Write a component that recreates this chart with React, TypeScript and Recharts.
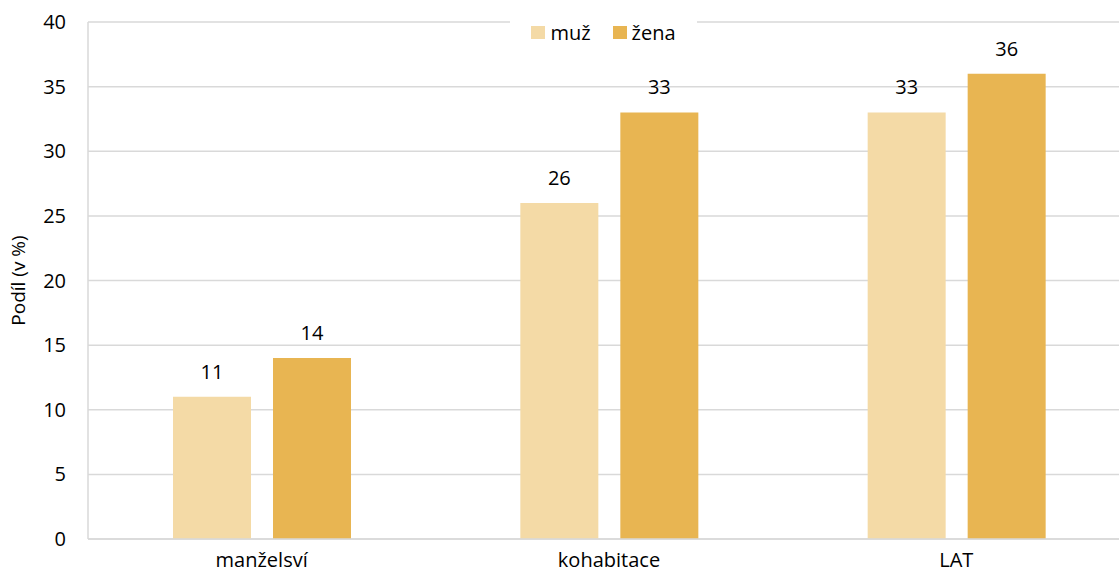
import { Bar, BarChart, CartesianGrid, LabelList, XAxis, YAxis } from "recharts";

const categories = ["manželsví", "kohabitace", "LAT"];
const muz = [11, 26, 33];
const zena = [14, 33, 36];
const yTicks = [0, 5, 10, 15, 20, 25, 30, 35, 40];

const data = categories.map((c, i) => ({ cat: c, muz: muz[i], zena: zena[i] }));

const FONT = "'Open Sans', sans-serif";
const FS = 20;

function LegendBox() {
  return (
    <div
      style={{
        position: "absolute",
        left: 510,
        top: 17,
        width: 187,
        height: 30,
        background: "#fff",
        display: "flex",
        alignItems: "center",
        justifyContent: "center",
        gap: 22,
        fontFamily: FONT,
        fontSize: FS,
        color: "#000",
      }}
    >
      <span style={{ display: "flex", alignItems: "center", gap: 5 }}>
        <span style={{ width: 14, height: 13, background: "#F4DAA6", display: "inline-block" }} />
        muž
      </span>
      <span style={{ display: "flex", alignItems: "center", gap: 5 }}>
        <span style={{ width: 14, height: 13, background: "#E8B552", display: "inline-block" }} />
        žena
      </span>
    </div>
  );
}

export default function App() {
  return (
    <div style={{ position: "absolute", left: 0, top: 0, width: 1119, height: 581, background: "#fff", overflow: "hidden" }}>
      <BarChart
        width={1130}
        height={581}
        data={data}
        margin={{ top: 22, right: 0, left: 0, bottom: 0 }}
        barCategoryGap={85}
        barGap={22}
      >
        <CartesianGrid vertical={false} stroke="#d9d9d9" strokeWidth={1.5} />
        <XAxis
          dataKey="cat"
          height={42}
          tickLine={false}
          axisLine={{ stroke: "#d9d9d9", strokeWidth: 1.5 }}
          tick={{ fill: "#000", fontSize: FS, fontFamily: FONT }}
          tickMargin={8}
        />
        <YAxis
          width={88}
          domain={[0, 40]}
          ticks={yTicks}
          interval={0}
          tickLine={false}
          axisLine={{ stroke: "#d9d9d9", strokeWidth: 1.5 }}
          tick={{ fill: "#000", fontSize: FS, fontFamily: FONT }}
          tickMargin={16}
          label={{
            value: "Podíl (v %)",
            angle: -90,
            position: "insideLeft",
            offset: 18,
            style: { textAnchor: "middle", fill: "#000", fontSize: 19, fontFamily: FONT },
          }}
        />
        <Bar dataKey="muz" name="muž" fill="#F4DAA6" isAnimationActive={false}>
          <LabelList dataKey="muz" position="top" offset={18} style={{ fill: "#000", fontSize: FS, fontFamily: FONT }} />
        </Bar>
        <Bar dataKey="zena" name="žena" fill="#E8B552" isAnimationActive={false}>
          <LabelList dataKey="zena" position="top" offset={18} style={{ fill: "#000", fontSize: FS, fontFamily: FONT }} />
        </Bar>
      </BarChart>
      <LegendBox />
    </div>
  );
}
